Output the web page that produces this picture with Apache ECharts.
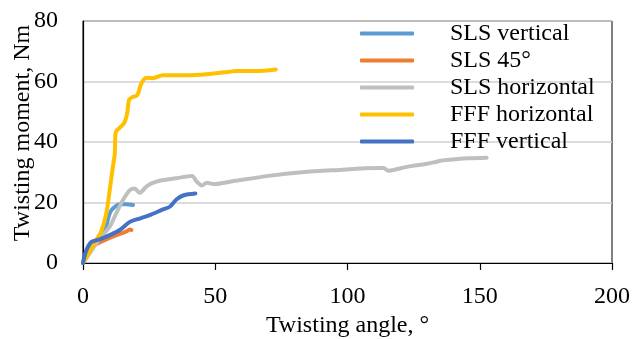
<!DOCTYPE html>
<html lang="en" style="height: 100%">
<head>
<meta charset="utf-8">
<title>Twisting moment vs angle</title>
</head>
<body style="height: 100%; margin: 0; background: #fff">
<div id="container" style="width: 633px; height: 339px"></div>

<script type="text/javascript" src="https://cdn.jsdelivr.net/npm/echarts@6/dist/echarts.min.js"></script>

<script type="text/javascript">

// [angle (deg), moment (Nm)]
var slsVertical = [
    [0, 0], [2.5, 4.3], [5.7, 8.1], [8.2, 10.9], [10.1, 16.4], [11.3, 18],
    [13.9, 19.4], [16.4, 19.4], [18.9, 19.2]
];
var sls45 = [
    [0, 0], [1.6, 4.5], [2.5, 5.2], [6.3, 6.8], [10.1, 8.3], [13.9, 9.6],
    [16.4, 10.4], [17.7, 11.1], [18.3, 10.9]
];
var slsHorizontal = [
    [0, 0], [2.5, 3.2], [6.3, 8.0], [10.1, 12], [12.6, 16.5], [15.1, 20.8],
    [17.7, 24.1], [19.5, 24.6], [21.4, 23.2], [23.9, 25.2], [25.9, 26.3],
    [29, 27.2], [35.3, 28], [41.2, 28.8], [43, 26.9], [44.9, 25.6],
    [46.8, 26.5], [49.4, 26.1], [57, 27.1], [70.2, 28.8], [82.8, 30],
    [95.4, 30.7], [111.7, 31.4], [113.6, 31.4], [115.5, 30.5], [120.5, 31.4],
    [124.5, 32.1], [129.5, 32.7], [133.3, 33.4], [135.2, 33.8], [140.9, 34.3],
    [145.7, 34.6], [152.6, 34.8]
];
var fffHorizontal = [
    [0, 0], [2.5, 3.7], [5, 7.6], [6.9, 10.4], [8.8, 16.4], [10.1, 24.1],
    [11.3, 31.8], [12, 36], [12.3, 42.9], [13, 44], [15.5, 46.2],
    [16.7, 49.5], [17.4, 53.9], [18.6, 54.8], [20.5, 55.5], [21.8, 58.8],
    [23, 60.7], [24.5, 61.2], [26.4, 61.1], [30.2, 62.1], [40.3, 62.1],
    [55.4, 63.2], [57.9, 63.5], [65.4, 63.5], [72.9, 64]
];
var fffVertical = [
    [0, 0], [1.3, 4.3], [3.2, 7], [6.3, 7.8], [10.1, 9.2], [13.9, 10.9],
    [17.7, 13.6], [21.4, 14.7], [25.2, 15.8], [30.2, 17.7], [32.8, 18.6],
    [35.3, 21], [38.1, 22.4], [42.5, 23]
];

var seriesNames = ['SLS vertical', 'SLS 45°', 'SLS horizontal', 'FFF horizontal', 'FFF vertical'];
var seriesData = [slsVertical, sls45, slsHorizontal, fffHorizontal, fffVertical];
var seriesColors = ['#5b9bd5', '#ed7d31', '#bfbfbf', '#ffc000', '#4472c4'];

var xTicks = { min: 0, max: 200, interval: 50 };
var yTicks = { min: 0, max: 80, interval: 20 };

var dom = document.getElementById('container');
var myChart = echarts.init(dom);

var font = '"Liberation Serif", serif';

var option = {
    animation: false,
    color: seriesColors,
    textStyle: { fontFamily: font },
    grid: {
        left: 83,
        right: 21,
        top: 21,
        bottom: 76,
        containLabel: false,
        outerBoundsMode: 'none',
        show: true,
        borderColor: '#000',
        borderWidth: 1
    },
    legend: {
        orient: 'vertical',
        left: 360,
        top: 20,
        padding: 0,
        icon: 'roundRect',
        itemWidth: 54,
        itemHeight: 4,
        itemGap: 0,
        data: seriesNames,
        textStyle: {
            fontFamily: font,
            fontSize: 24,
            color: '#000',
            lineHeight: 27,
            padding: [0, 0, 0, 31]
        }
    },
    xAxis: {
        type: 'value',
        min: xTicks.min,
        max: xTicks.max,
        interval: xTicks.interval,
        name: 'Twisting angle, °',
        nameLocation: 'middle',
        nameGap: 51,
        nameMoveOverlap: false,
        nameTextStyle: { fontFamily: font, fontSize: 24, color: '#000' },
        axisLine: { lineStyle: { color: '#000', width: 1.2 } },
        axisTick: { show: true, inside: false, length: 7, lineStyle: { color: '#000', width: 1.2 } },
        axisLabel: { fontFamily: font, fontSize: 24, color: '#000', margin: 22 },
        splitLine: { show: false }
    },
    yAxis: {
        type: 'value',
        min: yTicks.min,
        max: yTicks.max,
        interval: yTicks.interval,
        name: 'Twisting moment, Nm',
        nameLocation: 'middle',
        nameGap: 48,
        nameMoveOverlap: false,
        nameTextStyle: { fontFamily: font, fontSize: 24, color: '#000', padding: [0, 0, 0, 18] },
        axisLine: { show: true, lineStyle: { color: '#000', width: 1.2 } },
        axisTick: { show: false },
        axisLabel: { fontFamily: font, fontSize: 24, color: '#000', margin: 25 },
        splitLine: { show: true, lineStyle: { color: '#d0d0d0', width: 1.5 } }
    },
    series: seriesNames.map(function (name, i) {
        return {
            name: name,
            type: 'line',
            data: seriesData[i],
            smooth: 0.3,
            showSymbol: false,
            symbol: 'none',
            lineStyle: { width: 4, color: seriesColors[i], cap: 'round', join: 'round' },
            itemStyle: { color: seriesColors[i] }
        };
    })
};

myChart.setOption(option);
window.addEventListener('resize', myChart.resize);
</script>
</body>
</html>
